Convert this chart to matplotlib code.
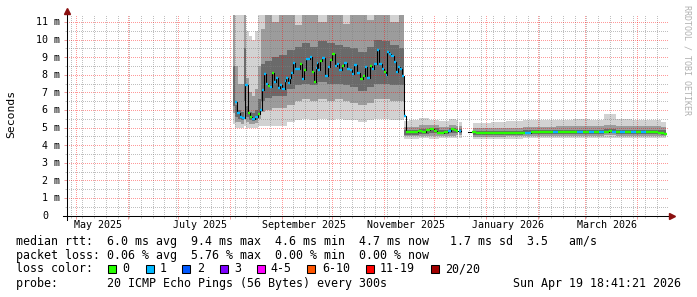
#!/usr/bin/env python3
import datetime as dt
import numpy as np
import matplotlib
matplotlib.use("Agg")
import matplotlib.pyplot as plt
import matplotlib.dates as mdates
import matplotlib.transforms as mtrans
from matplotlib.patches import Rectangle
from matplotlib.ticker import FixedLocator, NullFormatter

nan = float("nan")

# all times are days since 2025-08-01 00:00
BASE = dt.datetime(2025, 8, 1)
END = dt.datetime(2026, 4, 19, 18, 41, 21)
SPAN_DAYS = 359

# median rtt (ms) and lost pings (of 20) per step
med_day = [3.6, 5.2, 6.6, 7.8, 10.0, 11.2, 12.8, 14.3, 15.9, 17.3, 18.8, 19.9, 21.1, 22.1,
           23.1, 24.5, 25.9, 27.1, 28.1, 29.5, 30.7, 32.1, 33.3, 34.3, 35.2, 36.4, 37.0, 38.5,
           39.8, 41.0, 42.4, 43.8, 45.2, 46.2, 47.2, 48.4, 50.0, 50.8, 51.8, 52.4, 53.4, 54.6,
           55.8, 57.7, 59.1, 60.6, 61.9, 63.3, 64.9, 66.1, 67.7, 69.3, 71.3, 72.5, 73.7, 75.2,
           77.3, 78.7, 80.0, 81.6, 82.8, 84.2, 85.6, 86.8, 88.6, 90.2, 91.6, 92.6, 93.6, 94.6,
           95.6, 97.6, 99.0, 99.6, 100.9, 102.5, 103.6, 104.7,
           105.5, 106.7, 109.1, 111.5, 113.9, 116.3, 118.7, 121.1, 122.9, 124.6, 127.0, 129.4,
           131.2, 133.0, 134.8, 136.0, 137.0, 137.8, 139.0,
           145.5, 149.1, 152.7, 156.3, 159.9, 163.4, 167.0, 170.6, 174.2, 178.4, 181.4, 185.0,
           188.5, 192.1, 194.5, 198.1, 201.7, 205.3, 210.1, 212.5, 216.1, 219.6, 222.0, 225.6,
           227.4, 229.2, 232.8, 234.0, 237.6, 241.2, 244.7, 247.1, 250.7, 254.3, 257.9, 260.3]
med_ms = [6.44, 5.81, 5.62, 5.55, 7.44, 5.81, 5.58, 5.49, 5.58, 5.74, 5.97, 7.14, 8.05, 7.48,
          7.33, 7.29, 8.07, 7.61, 7.82, 7.23, 7.42, 7.20, 7.63, 7.82, 7.52, 7.80, 8.10, 8.65,
          8.33, 8.33, 8.62, 7.73, 8.28, 8.90, 8.90, 9.00, 8.14, 7.61, 8.39, 8.68, 8.24, 8.77,
          8.94, 7.91, 8.43, 8.85, 9.19, 8.47, 8.62, 8.24, 8.47, 8.65, 8.33, 8.28, 8.05, 8.56,
          8.09, 7.77, 7.95, 8.43, 7.80, 8.52, 8.33, 8.62, 9.43, 8.62, 8.30, 8.18, 7.99, 9.28,
          9.19, 9.09, 8.71, 8.14, 8.43, 8.33, 7.95, 5.68,
          4.72, 4.72, 4.73, 4.72, 4.80, 4.74, 4.85, 4.89, 4.80, 4.70, 4.70, 4.72,
          4.80, 4.90, 4.88, 4.80, nan, 4.80, nan,
          4.72, 4.68, 4.68, 4.66, 4.67, 4.66, 4.68, 4.68, 4.68, 4.70, 4.72, 4.72,
          4.74, 4.74, 4.75, 4.74, 4.76, 4.75, 4.75, 4.76, 4.74, 4.76, 4.75, 4.76,
          4.82, 4.74, 4.75, 4.72, 4.76, 4.74, 4.76, 4.75, 4.76, 4.74, 4.70, 4.62]
med_loss = [1, 1, 1, 1, 1, 0, 0, 1, 1, 0, 1, 1, 1, 1,
            0, 1, 0, 1, 1, 1, 1, 1, 1, 1, 1, 1, 1, 1,
            1, 1, 0, 1, 0, 1, 1, 1, 0, 0, 1, 1, 1, 0,
            1, 1, 1, 0, 0, 1, 1, 1, 0, 1, 1, 1, 1, 1,
            1, 0, 0, 1, 1, 0, 1, 1, 1, 1, 1, 0, 1, 1,
            1, 1, 1, 1, 1, 1, 1, 1,
            0, 0, 0, 0, 0, 0, 0, 0, 0, 0, 0, 0,
            1, 0, 0, 0, 0, 1, 0,
            0, 0, 0, 0, 0, 0, 0, 0, 0, 1, 0, 0,
            0, 0, 1, 0, 0, 0, 1, 0, 1, 0, 1, 0,
            0, 1, 0, 1, 0, 1, 0, 1, 0, 0, 0, 0]

# smoke: spread of the 20 pings (ms), outer / middle / inner pairs
smoke_day = [2.2, 4.0, 5.8, 7.6, 9.4, 10.6, 12.4, 14.2, 16.0, 17.7, 19.5, 23.1, 27.3, 31.5,
             36.3, 41.1, 45.8, 50.6, 55.4, 60.2, 65.0, 69.7, 74.5, 79.3, 84.1, 88.8, 93.6,
             98.4, 103.8,
             104.6, 110, 116, 122, 128, 134, 136.5, 137.0, 137.2, 138.6, 139.5,
             145.3, 152, 160, 170, 180, 190, 200, 210, 220, 227, 235, 245, 255, 260.6]
smoke_lo5 = [5.2, 5.0, 5.0, 5.0, 5.1, 5.0, 4.95, 4.95, 5.0, 5.1, 5.1, 5.1, 5.1, 5.1,
             5.3, 5.4, 5.5, 5.4, 5.5, 5.4, 5.5, 5.4, 5.4, 5.3, 5.4, 5.5, 5.5, 5.4, 5.4,
             4.36, 4.35, 4.38, 4.36, 4.40, 4.38, 4.40, nan, 4.42, 4.42, nan,
             4.36, 4.36, 4.35, 4.36, 4.38, 4.38, 4.40, 4.40, 4.40, 4.40, 4.40, 4.40, 4.38, 4.38]
smoke_lo20 = [5.8, 5.3, 5.3, 5.2, 5.6, 5.3, 5.2, 5.2, 5.25, 5.5, 5.9, 6.0, 6.1, 6.1,
              6.3, 6.5, 6.6, 6.5, 6.6, 6.5, 6.6, 6.5, 6.4, 6.3, 6.4, 6.6, 6.6, 6.5, 6.5,
              4.50, 4.50, 4.52, 4.52, 4.54, 4.52, 4.55, nan, 4.56, 4.56, nan,
              4.48, 4.48, 4.48, 4.50, 4.52, 4.52, 4.54, 4.54, 4.54, 4.55, 4.54, 4.54, 4.52, 4.50]
smoke_lo35 = [6.2, 5.6, 5.5, 5.4, 6.5, 5.6, 5.4, 5.35, 5.4, 5.8, 6.5, 6.7, 6.8, 6.8,
              7.2, 7.4, 7.5, 7.4, 7.6, 7.5, 7.5, 7.4, 7.3, 7.1, 7.3, 7.5, 7.5, 7.4, 7.4,
              4.60, 4.60, 4.64, 4.66, 4.62, 4.66, 4.66, nan, 4.66, 4.66, nan,
              4.58, 4.58, 4.58, 4.60, 4.62, 4.62, 4.64, 4.64, 4.64, 4.66, 4.64, 4.64, 4.62, 4.60]
smoke_hi35 = [8.5, 6.3, 6.0, 5.9, 9.5, 6.2, 5.9, 5.8, 6.0, 6.6, 8.6, 8.8, 9.0, 9.1,
              9.4, 9.6, 9.8, 9.6, 9.9, 9.8, 9.7, 9.6, 9.5, 9.3, 9.6, 10.0, 9.9, 9.7, 9.5,
              4.85, 4.86, 4.90, 4.95, 4.85, 4.95, 4.92, nan, 4.92, 4.92, nan,
              4.82, 4.80, 4.80, 4.82, 4.84, 4.86, 4.88, 4.88, 4.88, 4.92, 4.88, 4.88, 4.86, 4.84]
smoke_hi20 = [12, 8.5, 7.5, 7.5, 12, 7.8, 7.0, 6.8, 7.2, 8.5, 10.6, 12, 11.0, 12,
              12, 10.8, 12, 12, 11.0, 12, 12, 10.9, 12, 12, 11.1, 12, 12,
              11.0, 12,
              5.05, 5.05, 5.12, 5.15, 5.05, 5.15, 5.10, nan, 5.10, 5.10, nan,
              5.00, 4.98, 4.98, 5.00, 5.02, 5.05, 5.08, 5.08, 5.10, 5.15, 5.10, 5.10, 5.08, 5.05]
smoke_hi5 = [12, 12, 11.5, 11.5, 12, 10.5, 10.2, 10.0, 10.5, 11.5, 12, 12, 12, 12,
             12, 12, 12, 12, 12, 12, 12, 12, 12, 12, 12, 12, 12, 12, 12,
             5.35, 5.45, 5.55, 5.45, 5.35, 5.50, 5.40, nan, 5.30, 5.30, nan,
             5.25, 5.25, 5.30, 5.35, 5.40, 5.45, 5.45, 5.50, 5.45, 5.75, 5.50, 5.45, 5.40, 5.30]

y_ticks = [0, 1, 2, 3, 4, 5, 6, 7, 8, 9, 10, 11]
y_labels = ["0", "1 m", "2 m", "3 m", "4 m", "5 m", "6 m", "7 m", "8 m", "9 m", "10 m", "11 m"]
x_label_months = [(2025, 5), (2025, 7), (2025, 9), (2025, 11), (2026, 1), (2026, 3)]
x_labels = ["May 2025", "July 2025", "September 2025", "November 2025", "January 2026", "March 2026"]

loss_names = ["0", "1", "2", "3", "4-5", "6-10", "11-19", "20/20"]
loss_colors = ["#26ff00", "#00b8ff", "#0059ff", "#7e00ff", "#ff00ff", "#ff5500", "#ff0000", "#a10000"]

line_rtt = "median rtt:  6.0 ms avg  9.4 ms max  4.6 ms min  4.7 ms now   1.7 ms sd  3.5   am/s"
line_loss = "packet loss: 0.06 % avg  5.76 % max  0.00 % min  0.00 % now"
line_probe = "probe:       20 ICMP Echo Pings (56 Bytes) every 300s"
stamp = "Sun Apr 19 18:41:21 2026"

W, H = 697, 297
DOTS = (0.5, (1, 1))   # 1px on / 1px off, started on a pixel edge


def fx(px):
    return px / W


def fy(py):
    return 1 - py / H


def main():
    for arr in (smoke_lo5, smoke_lo20, smoke_lo35, smoke_hi35, smoke_hi20, smoke_hi5):
        assert len(arr) == len(smoke_day)
    assert len(med_ms) == len(med_day) == len(med_loss)

    plt.rcParams['font.family'] = 'DejaVu Sans Mono'
    fig = plt.figure(figsize=(W / 100, H / 100), dpi=100)
    fig.patch.set_facecolor('white')

    top, bottom, left, right = 14.5, 215.5, 67, 668
    ax = fig.add_axes([fx(left), fy(bottom), (right - left) / W, (bottom - top) / H])
    ppm = 17.6  # pixels per ms
    ax.set_ylim(0, (bottom - top) / ppm)

    base = mdates.date2num(BASE)
    t_end = mdates.date2num(END)
    ax.set_xlim(t_end - SPAN_DAYS, t_end)
    ax.xaxis_date()

    # smoke
    sx = base + np.array(smoke_day)
    ax.fill_between(sx, smoke_lo5, smoke_hi5, step='mid', color='#d2d2d2', lw=0, zorder=1)
    ax.fill_between(sx, smoke_lo20, smoke_hi20, step='mid', color='#9c9c9c', lw=0, zorder=1.1)
    ax.fill_between(sx, smoke_lo35, smoke_hi35, step='mid', color='#6a6a6a', lw=0, zorder=1.2)

    # median line, coloured by loss
    mx = base + np.array(med_day)
    my = np.array(med_ms)
    ax.step(mx, my, where='mid', color='black', lw=0.75, zorder=4)
    lefts, rights, ys, cols = [], [], [], []
    for i in range(len(mx)):
        if np.isnan(my[i]):
            continue
        l = (mx[i] + mx[i - 1]) / 2 if i > 0 and not np.isnan(my[i - 1]) else mx[i] - 0.6
        r = (mx[i] + mx[i + 1]) / 2 if i < len(mx) - 1 and not np.isnan(my[i + 1]) else mx[i] + 0.6
        lefts.append(l)
        rights.append(r)
        ys.append(my[i])
        cols.append(loss_colors[med_loss[i]])
    ax.hlines(ys, lefts, rights, colors=cols, lw=1.7, zorder=5)

    # grid
    ax.xaxis.set_major_locator(mdates.MonthLocator())
    mondays = []
    d = (END - dt.timedelta(days=SPAN_DAYS)).date()
    while d <= END.date():
        if d.weekday() == 0 and d.day != 1:
            mondays.append(mdates.date2num(dt.datetime(d.year, d.month, d.day)))
        d += dt.timedelta(days=1)
    ax.xaxis.set_minor_locator(FixedLocator(mondays))
    ax.yaxis.set_major_locator(FixedLocator(y_ticks))
    ax.yaxis.set_minor_locator(FixedLocator([v + 0.5 for v in y_ticks[:-1]]))
    ax.xaxis.set_major_formatter(NullFormatter())
    ax.yaxis.set_major_formatter(NullFormatter())
    ax.set_axisbelow(False)
    # grid.alpha would override an rgba colour, so alpha goes in separately
    ax.grid(which='minor', color='#808080', alpha=0.5, linestyle=DOTS, linewidth=0.72)
    ax.grid(which='major', color='#ff0000', alpha=0.4, linestyle=DOTS, linewidth=0.72)
    ax.tick_params(which='major', direction='out', length=2.2, width=0.72, color='#f09a9a',
                   labelbottom=False, labelleft=False)
    ax.tick_params(which='minor', direction='out', length=1.5, width=0.72, color='#c0c0c0')
    for s in ax.spines.values():
        s.set_visible(False)

    # axes with arrows
    pw, ph = right - left, bottom - top
    ax.plot([-4 / pw, 1 + 4 / pw], [0, 0], transform=ax.transAxes, color='black',
            lw=0.75, clip_on=False, zorder=6)
    ax.plot([0, 0], [-4 / ph, 1 + 3 / ph], transform=ax.transAxes, color='black',
            lw=0.75, clip_on=False, zorder=6)
    ax.plot([1 + 4 / pw], [0], transform=ax.transAxes, marker='>', ms=4.2, color='#8b1010',
            clip_on=False, zorder=7)
    ax.plot([0], [1 + 4 / ph], transform=ax.transAxes, marker='^', ms=4.2, color='#8b1010',
            clip_on=False, zorder=7)

    # tick labels
    ytrans = mtrans.offset_copy(mtrans.blended_transform_factory(fig.transFigure, ax.transData),
                                fig=fig, x=0, y=-3.6, units='dots')
    for v, lab in zip(y_ticks, y_labels):
        xr = 60 if lab != "0" else 48
        ax.text(fx(xr), v, lab, transform=ytrans, ha='right', va='baseline', size=7.2,
                clip_on=False)
    xtrans = mtrans.blended_transform_factory(ax.transData, fig.transFigure)
    for (yr, mo), lab in zip(x_label_months, x_labels):
        xpos = mdates.date2num(dt.datetime(yr, mo, 14, 12))
        ax.text(xpos, fy(228.5), lab, transform=xtrans, ha='center', va='baseline', size=7.2)

    fig.text(fx(11), fy(114), 'Seconds', rotation=90, ha='center', va='center', size=8.2)
    fig.text(fx(687), fy(60), 'RRDTOOL / TOBI OETIKER', rotation=270, ha='center',
             va='center', size=6, color='#b0b0b0')

    # legend block
    fs = 8.4
    fig.text(fx(16), fy(245), line_rtt, ha='left', va='baseline', size=fs)
    fig.text(fx(16), fy(259), line_loss, ha='left', va='baseline', size=fs)
    fig.text(fx(16), fy(272.5), 'loss color:', ha='left', va='baseline', size=fs)
    box_x = [108, 145.5, 182, 219.5, 256.5, 307, 365.5, 430.5]
    lab_x = [122.5, 160, 197, 234, 270.5, 322, 380, 445]
    for bx, lx, name, c in zip(box_x, lab_x, loss_names, loss_colors):
        fig.add_artist(Rectangle((fx(bx), fy(272.5)), 8 / W, 8 / H, transform=fig.transFigure,
                                 facecolor=c, edgecolor='black', lw=0.75))
        fig.text(fx(lx), fy(272.5), name, ha='left', va='baseline', size=fs)
    fig.text(fx(16), fy(287.5), line_probe, ha='left', va='baseline', size=fs)
    fig.text(fx(681), fy(287.5), stamp, ha='right', va='baseline', size=fs)

    fig.savefig('out.png', dpi=100, facecolor='white')


main()
